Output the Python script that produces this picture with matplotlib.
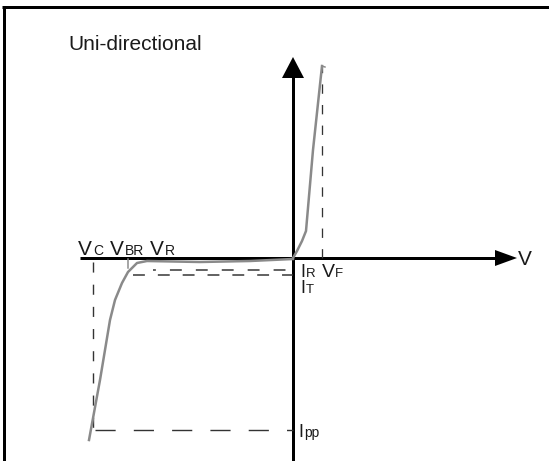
import matplotlib
matplotlib.use("Agg")
import matplotlib.pyplot as plt

# I-V curve of a uni-directional TVS diode (V to the right, I up, origin at axes crossing)
fwd_v = [0, 4, 9, 13, 20, 29]
fwd_i = [0, 7, 17, 27, 108, 192]

rev_v = [0, -43, -93, -146, -156, -165, -171, -178, -183, -193, -204]
rev_i = [-1, -3, -4, -3, -5, -14, -25, -42, -62, -122, -182]

# characteristic points
v_c, v_br, v_f = -200, -165, 29
i_r, i_t, i_pp = -12, -17, -172

PX = 0.72  # points per pixel at dpi 100

fig = plt.figure(figsize=(5.49, 4.61), dpi=100)
ax = fig.add_axes([0, 0, 1, 1])
ax.set_xlim(-293, 256)
ax.set_ylim(-203, 258)
ax.axis("off")

# frame (top and left only)
ax.plot([-291, 256], [250.5, 250.5], color="black", lw=3 * PX, solid_capstyle="butt")
ax.plot([-289.5, -289.5], [252, -203], color="black", lw=3 * PX, solid_capstyle="butt")

# axes with arrow heads
ax.plot([-213, 205], [0, 0], color="black", lw=3 * PX, solid_capstyle="butt")
ax.fill([202, 224, 202], [8, 0, -8], color="black", lw=0)
ax.plot([0, 0], [-203, 183], color="black", lw=3 * PX, solid_capstyle="butt")
ax.fill([-11, 0, 11], [180, 201, 180], color="black", lw=0)

# dashed guide lines
dash_s = (0, (10 * PX, 12 * PX))
dash_l = (0, (20 * PX, 18 * PX))
ax.plot([v_f, v_f], [0, fwd_i[-1]], color="#333333", lw=1.3 * PX, ls=dash_s)
ax.plot([v_c, v_c], [-4, i_pp], color="#333333", lw=1.4 * PX, ls=dash_s)
ax.plot([v_c + 2, 0], [i_pp, i_pp], color="#333333", lw=1.4 * PX, ls=dash_l)
ax.plot([-140, 0], [i_r, i_r], color="#333333", lw=1.5 * PX, ls=(6, (11 * PX, 13 * PX)))
ax.plot([-160, 0], [i_t, i_t], color="#333333", lw=1.5 * PX, ls=(0, (11 * PX, 12 * PX)))

# curve
curve = dict(color="#8a8a8a", lw=2.5 * PX, solid_joinstyle="round")
ax.plot(fwd_v, fwd_i, **curve)
ax.plot([fwd_v[-1], fwd_v[-1] + 3], [fwd_i[-1], fwd_i[-1] - 1], color="#8a8a8a", lw=1.5 * PX)
ax.plot(rev_v, rev_i, **curve)
ax.plot([v_br, v_br], [-1, -10], color="#8a8a8a", lw=1.5 * PX)

font = "Liberation Sans"
txt = "#1a1a1a"

ax.text(-225, 208, "Uni-directional", fontsize=15, family=font, color=txt, va="baseline")

# labels: (main, sub, x_main, x_sub, baseline, main size, sub size)
labels = [
    ("V", "C", -215, -200, 3, 15, 10),
    ("V", "BR", -183, -168, 3, 15, 10),
    ("V", "R", -143, -128, 3, 15, 10),
    ("I", "R", 7, 13, -19, 13, 9.5),
    ("V", "F", 29, 42, -19, 14, 9.5),
    ("I", "T", 7, 13, -35, 13, 9.5),
    ("I", "pp", 5, 11, -179, 13, 10),
]
for main, sub, xm, xs, yb, sm, ss in labels:
    ax.text(xm, yb, main, fontsize=sm, family=font, color=txt, va="baseline")
    ax.text(xs, yb, sub, fontsize=ss, family=font, color=txt, va="baseline")

ax.text(225, -7, "V", fontsize=15, family=font, color=txt, va="baseline")

fig.savefig("out.png", dpi=100)
